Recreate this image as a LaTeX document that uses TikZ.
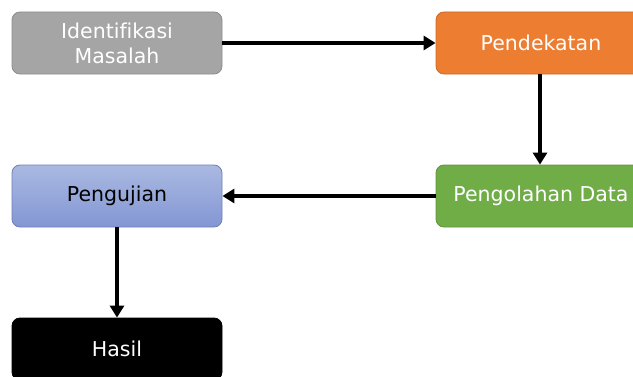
\documentclass[tikz,border=0pt]{standalone}
\usepackage{fontspec}
\setmainfont{DejaVu Sans}[Ligatures=NoCommon]
\usepackage{tikz}
\usetikzlibrary{arrows.meta}
\definecolor{boxgrey}{HTML}{A5A5A5}
\definecolor{boxorange}{HTML}{ED7D31}
\definecolor{boxgreen}{HTML}{70AD47}
\definecolor{bluetop}{HTML}{AAB9E1}
\definecolor{bluebot}{HTML}{8396D4}

\begin{document}
\begin{tikzpicture}[x=1pt, y=1pt,
  stage/.style={rectangle, rounded corners=8pt, minimum width=210pt, minimum height=62pt,
    inner sep=0pt, align=center, font=\fontsize{20.5}{25}\selectfont, line width=0.8pt},
  flow/.style={-{Triangle[length=12pt, width=14pt]}, line width=3.5pt}]
\clip (0,0) rectangle (633,376);
\path[use as bounding box] (0,0) rectangle (633,376);
\node[stage, fill=boxgrey, draw=boxgrey!85!black, text=white] (masalah) at (117,333) {Identifikasi\\Masalah};
\node[stage, fill=boxorange, draw=boxorange!85!black, text=white] (pendekatan) at (541,333) {Pendekatan};
\node[stage, fill=boxgreen, draw=boxgreen!85!black, text=white] (olah) at (541,180) {Pengolahan Data};
\node[stage, top color=bluetop, bottom color=bluebot, draw=bluebot!85!black, text=black] (uji) at (117,180) {Pengujian};
\node[stage, fill=black, draw=black, text=white] (hasil) at (117,27) {Hasil};
\draw[flow] (masalah) -- (pendekatan);
\draw[flow] (pendekatan.south -| 540,0) -- (olah.north -| 540,0);
\draw[flow] (olah) -- (uji);
\draw[flow] (uji) -- (hasil);
\end{tikzpicture}
\end{document}
